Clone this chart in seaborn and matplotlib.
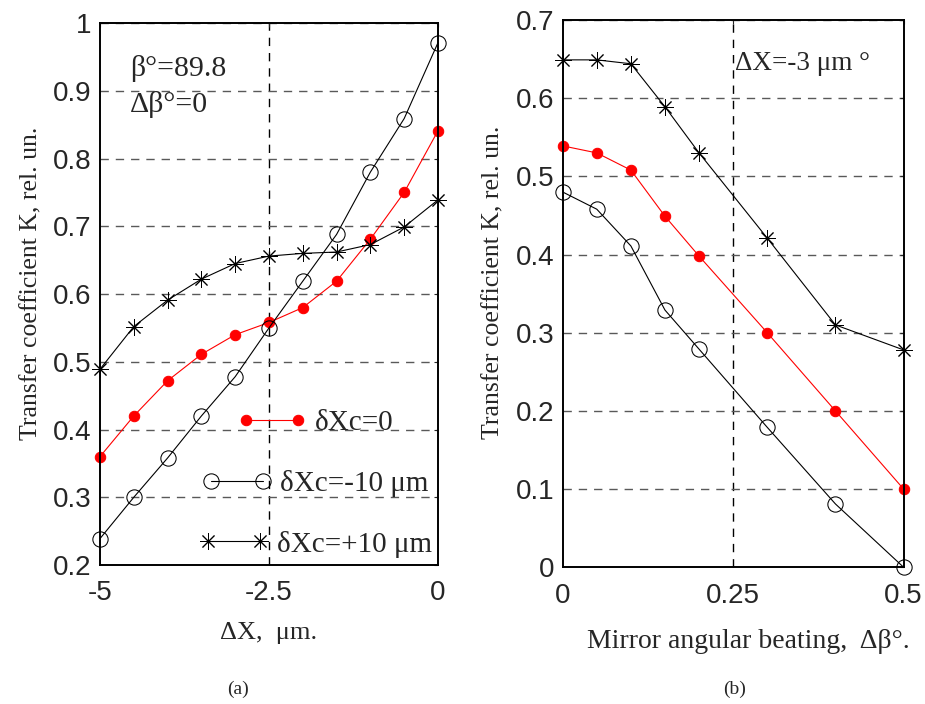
import numpy as np
import pandas as pd
import seaborn as sns
import matplotlib.pyplot as plt

# panel (a): transfer coefficient vs displacement
dx = [-5, -4.5, -4, -3.5, -3, -2.5, -2, -1.5, -1, -0.5, 0]
k_a_zero = [0.36, 0.42, 0.472, 0.511, 0.54, 0.558, 0.58, 0.619, 0.681, 0.75, 0.841]
k_a_minus = [0.239, 0.30, 0.358, 0.42, 0.478, 0.55, 0.619, 0.688, 0.78, 0.859, 0.971]
k_a_plus = [0.489, 0.552, 0.591, 0.622, 0.645, 0.656, 0.66, 0.662, 0.673, 0.699, 0.739]

# panel (b): transfer coefficient vs mirror angular beating
dbeta = [0, 0.05, 0.1, 0.15, 0.2, 0.3, 0.4, 0.5]
k_b_zero = [0.539, 0.53, 0.508, 0.449, 0.398, 0.30, 0.20, 0.10]
k_b_minus = [0.48, 0.458, 0.411, 0.329, 0.279, 0.179, 0.081, 0.0]
k_b_plus = [0.649, 0.649, 0.644, 0.589, 0.53, 0.421, 0.31, 0.278]

labels = ["δXc=0", "δXc=-10 μm", "δXc=+10 μm"]

a_xticks = [-5, -2.5, 0]
a_xticklabels = ["-5", "-2.5", "0"]
a_yticks = [0.2, 0.3, 0.4, 0.5, 0.6, 0.7, 0.8, 0.9, 1.0]
a_yticklabels = ["0.2", "0.3", "0.4", "0.5", "0.6", "0.7", "0.8", "0.9", "1"]
b_xticks = [0, 0.25, 0.5]
b_xticklabels = ["0", "0.25", "0.5"]
b_yticks = [0, 0.1, 0.2, 0.3, 0.4, 0.5, 0.6, 0.7]
b_yticklabels = ["0", "0.1", "0.2", "0.3", "0.4", "0.5", "0.6", "0.7"]

sns.set_style("white")
plt.rcParams['font.family'] = ['Liberation Sans', 'DejaVu Sans']
serif = ['Liberation Serif', 'DejaVu Serif']

fig = plt.figure(figsize=(9.25, 7.04), dpi=100)
ax1 = fig.add_axes([0.1081, 0.1974, 0.3654, 0.7699])
ax2 = fig.add_axes([0.6083, 0.1942, 0.3686, 0.7774])

star = (8, 2, 0)
styles = [
    dict(color="red", marker="o", markersize=7.5, markerfacecolor="red", markeredgecolor="red"),
    dict(color="black", marker="o", markersize=11, markerfacecolor="none", markeredgecolor="black"),
    dict(color="black", marker=star, markersize=12, markeredgecolor="black", markeredgewidth=0.7),
]


def draw(ax, x, series, xticks, xtl, yticks, ytl, xlim, ylim):
    for ys, lab, st in zip(series, labels, styles):
        df = pd.DataFrame({"x": x, "y": ys})
        sns.lineplot(data=df, x="x", y="y", ax=ax, label=lab, linewidth=0.8, **st)
    ax.set_xlim(*xlim)
    ax.set_ylim(*ylim)
    ax.set_xticks(xticks)
    ax.set_xticklabels(xtl)
    ax.set_yticks(yticks)
    ax.set_yticklabels(ytl)
    ax.tick_params(labelsize=20, direction="in", length=3, top=True, right=True)
    ax.tick_params(axis="y", pad=6)
    ax.tick_params(axis="x", pad=11)
    ax.yaxis.grid(True, linestyle=(0, (6, 5)), color="0.35", linewidth=1.0)
    ax.axvline(xticks[1], linestyle=(0, (6, 5)), color="black", linewidth=1.0, zorder=0.5)
    for s in ax.spines.values():
        s.set_color("black")
        s.set_linewidth(1.4)
    ax.set_ylabel("Transfer coefficient K, rel. un.", family=serif, fontsize=18.5)
    ax.yaxis.set_label_coords(-0.17, 0.52)


draw(ax1, dx, [k_a_zero, k_a_minus, k_a_plus], a_xticks, a_xticklabels,
     a_yticks, a_yticklabels, (-5, 0), (0.2, 1.0))
draw(ax2, dbeta, [k_b_zero, k_b_minus, k_b_plus], b_xticks, b_xticklabels,
     b_yticks, b_yticklabels, (0, 0.5), (0, 0.7))

for ln in ax1.lines + ax2.lines:
    ln.set_clip_on(False)

ax1.set_xlabel("ΔX,  μm.", family=serif, fontsize=19)
ax2.set_xlabel("Mirror angular beating,  Δβ°.", family=serif, fontsize=20)
ax1.xaxis.set_label_coords(0.5, -0.105)
ax2.xaxis.set_label_coords(0.545, -0.112)

ax1.text(0.089, 0.917, "β°=89.8", transform=ax1.transAxes, family=serif,
         fontsize=21.5, va="center", ha="left")
ax1.text(0.089, 0.849, "Δβ°=0", transform=ax1.transAxes, family=serif,
         fontsize=21.5, va="center", ha="left")
ax2.text(0.505, 0.921, "ΔX=-3 μm °", transform=ax2.transAxes, family=serif,
         fontsize=19.5, va="center", ha="left")

leg = ax1.legend(loc="upper right", bbox_to_anchor=(432 / 925, 1 - 410 / 704),
                 bbox_transform=fig.transFigure, frameon=False, numpoints=2,
                 handlelength=2.38, handletextpad=0.28, labelspacing=1.15,
                 borderpad=0, borderaxespad=0, prop={"family": serif, "size": 21})
# rows in the original are roughly centred on each other
for col in leg._legend_handle_box.get_children():
    col.align = "center"
ax2.legend_.remove()

fig.text(238 / 925, 1 - 689 / 704, "(a)", family=serif, fontsize=14, ha="center", va="center")
fig.text(735 / 925, 1 - 689 / 704, "(b)", family=serif, fontsize=14, ha="center", va="center")

fig.savefig("out.png", dpi=100)
